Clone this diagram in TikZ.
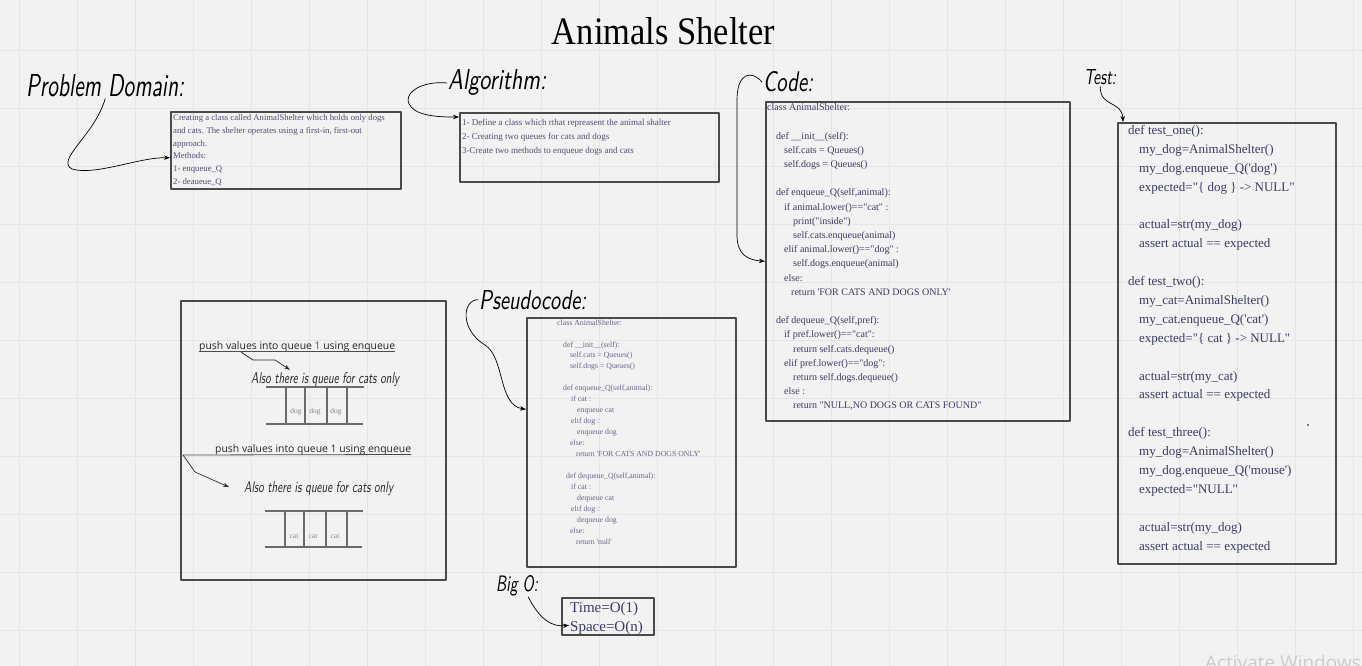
\documentclass[tikz,border=0pt]{standalone}
\usepackage{graphicx}
\usepackage{fontspec}
\setmainfont{Liberation Serif}[Ligatures=TeXOff]
\newfontfamily\uisans{Open Sans}
\usetikzlibrary{arrows.meta,calc}
\definecolor{bg}{HTML}{F2F2F2}
\definecolor{gridc}{HTML}{E5E5E5}
\definecolor{boxc}{HTML}{4A4A4A}
\definecolor{txt}{HTML}{3B3B62}
\definecolor{txtl}{HTML}{4E4E72}
\definecolor{txtp}{HTML}{66668A}
\definecolor{qline}{HTML}{6A6A6A}
\definecolor{qtxt}{HTML}{858585}
\definecolor{wm}{HTML}{CCCCCC}
\definecolor{numc}{HTML}{6A3D8A}
\newcommand{\handtxt}[3]{\resizebox{#1}{#2}{\sffamily\itshape #3}}
\tikzset{
  box/.style={draw=boxc, line width=1.6pt, anchor=north west, inner sep=0pt},
  txtnode/.style={anchor=north west, inner sep=0pt, align=left},
  hand/.style={anchor=base west, inner sep=1pt, text=black},
  conn/.style={draw=black, line width=0.7pt, -{Stealth[length=6pt,width=4.5pt]}},
  bent/.style={draw=black!85, line width=0.7pt, -{Stealth[length=6pt,width=4pt]}},
  uline/.style={draw=black!70, line width=0.8pt},
  qln/.style={draw=qline, line width=1.1pt},
  qlabel/.style={inner sep=0pt, text=qtxt, font=\fontsize{7.5}{9}\selectfont},
  pushtxt/.style={anchor=base west, inner sep=0pt, text=black!85, font=\uisans\fontsize{10.4}{12}\selectfont}
}
\begin{document}
\begin{tikzpicture}[x=1pt,y=-1pt,line join=round]
\fill[bg] (0,0) rectangle (1362,666);
\useasboundingbox (0,0) rectangle (1362,666);
\clip (0,0) rectangle (1362,666);
% grid
\foreach \gx in {19,77,...,1362} \draw[gridc, line width=0.7pt] (\gx,0) -- (\gx,666);
\foreach \gy in {50,108,...,666} \draw[gridc, line width=0.7pt] (0,\gy) -- (1362,\gy);

% title
\node[anchor=base, inner sep=0pt] (title) at (663.5,45) {\resizebox{223pt}{27pt}{Animals Shelter}};

% labels
\node[hand] (pdl) at (25,97) {\handtxt{158pt}{22pt}{Problem Domain:}};
\node[hand] (algl) at (447,90) {\handtxt{98pt}{20pt}{Algorithm:}};
\node[hand] (codel) at (762,92) {\handtxt{50pt}{20pt}{Code:}};
\node[hand] (testl) at (1083,85) {\handtxt{32pt}{15pt}{Test:}};
\node[hand] (psl) at (478,309) {\handtxt{107pt}{19pt}{Pseudocode:}};
\node[hand] (bigol) at (495,591) {\handtxt{42pt}{16pt}{Big O:}};

% boxes
\node[box, minimum width=230pt, minimum height=77pt] (pd) at (170,111) {};
\node[box, minimum width=259pt, minimum height=69pt] (alg) at (459,112) {};
\node[box, minimum width=304pt, minimum height=319pt] (code) at (765,101) {};
\node[box, minimum width=218pt, minimum height=441pt] (test) at (1117,122) {};
\node[box, minimum width=209pt, minimum height=249pt] (ps) at (526,317) {};
\node[box, minimum width=265pt, minimum height=279pt] (left) at (180,300) {};
\node[box, minimum width=92pt, minimum height=37pt] (bigo) at (561,597) {};

% problem domain text
\node[txtnode, text=txtl, font=\fontsize{8.7}{12.9}\selectfont] (pdt) at (173,114) {Creating a class called AnimalShelter which holds only dogs\\and cats. The shelter operates using a first-in, first-out\\approach.\\Methods:\\1- enqueue\_Q\\2- deaueue\_Q};

% algorithm text
\node[txtnode, text=txtl, font=\fontsize{9}{14}\selectfont] (algt) at (462,119) {1- Define a class which rthat repreasent the animal shalter\\2- Creating two queues for cats and dogs\\3-Create two methods to enqueue dogs and cats};

% code text
\node[txtnode, text=txt, font=\fontsize{10}{14.2}\selectfont] (codet) at (767,103.5) {class AnimalShelter:\\\mbox{}\\
\hspace*{9pt}def \_\_init\_\_(self):\\
\hspace*{17pt}self.cats = Queues()\\
\hspace*{17pt}self.dogs = Queues()\\\mbox{}\\
\hspace*{9pt}def enqueue\_Q(self,animal):\\
\hspace*{17pt}if animal.lower()=="cat" :\\
\hspace*{26pt}print("inside")\\
\hspace*{26pt}self.cats.enqueue(animal)\\
\hspace*{17pt}elif animal.lower()=="dog" :\\
\hspace*{26pt}self.dogs.enqueue(animal)\\
\hspace*{17pt}else:\\
\hspace*{24pt}return 'FOR CATS AND DOGS ONLY'\\\mbox{}\\
\hspace*{9pt}def dequeue\_Q(self,pref):\\
\hspace*{17pt}if pref.lower()=="cat":\\
\hspace*{26pt}return self.cats.dequeue()\\
\hspace*{17pt}elif pref.lower()=="dog":\\
\hspace*{26pt}return self.dogs.dequeue()\\
\hspace*{17pt}else :\\
\hspace*{26pt}return "NULL,NO DOGS OR CATS FOUND"};

% test text
\node[txtnode, text=txt, font=\fontsize{13}{18.9}\selectfont] (testt) at (1128,125) {def test\_one():\\
\hspace*{11pt}my\_dog=AnimalShelter()\\
\hspace*{11pt}my\_dog.enqueue\_Q('dog')\\
\hspace*{11pt}expected="\{ dog \} -> NULL"\\\mbox{}\\
\hspace*{11pt}actual=str(my\_dog)\\
\hspace*{11pt}assert actual == expected\\\mbox{}\\
def test\_two():\\
\hspace*{11pt}my\_cat=AnimalShelter()\\
\hspace*{11pt}my\_cat.enqueue\_Q('cat')\\
\hspace*{11pt}expected="\{ cat \} -> NULL"\\\mbox{}\\
\hspace*{11pt}actual=str(my\_cat)\\
\hspace*{11pt}assert actual == expected\\\mbox{}\\
def test\_three():\\
\hspace*{11pt}my\_dog=AnimalShelter()\\
\hspace*{11pt}my\_dog.enqueue\_Q('mouse')\\
\hspace*{11pt}expected="NULL"\\\mbox{}\\
\hspace*{11pt}actual=str(my\_dog)\\
\hspace*{11pt}assert actual == expected};
\fill[black] (1308,425) circle (0.8pt);

% pseudocode text
\node[txtnode, text=txtp, font=\fontsize{7.8}{10.95}\selectfont] (pst) at (557,319.5) {class AnimalShelter:\\\mbox{}\\
\hspace*{6pt}def \_\_init\_\_(self):\\
\hspace*{13pt}self.cats = Queues()\\
\hspace*{13pt}self.dogs = Queues()\\\mbox{}\\
\hspace*{6pt}def enqueue\_Q(self,animal):\\
\hspace*{14pt}if cat :\\
\hspace*{20pt}enqueue cat\\
\hspace*{14pt}elif dog :\\
\hspace*{20pt}enqueue dog\\
\hspace*{13pt}else:\\
\hspace*{19pt}return 'FOR CATS AND DOGS ONLY'\\\mbox{}\\
\hspace*{9pt}def dequeue\_Q(self,animal):\\
\hspace*{14pt}if cat :\\
\hspace*{20pt}dequeue cat\\
\hspace*{14pt}elif dog :\\
\hspace*{20pt}dequeue dog\\
\hspace*{13pt}else:\\
\hspace*{19pt}return 'null'};

% big O text
\node[txtnode, text=txt, font=\fontsize{15}{19}\selectfont] (bigot) at (570,601.5) {Time=O(1)\\Space=O(n)};

% left box content
\node[pushtxt] (push1) at (199,349) {push values into queue \textcolor{numc}{1} using enqueue};
\draw[uline] ([yshift=-2.5pt]push1.base west) -- ([yshift=-2.5pt]push1.base east);
\node[hand, inner sep=0pt, text=black!85] (also1) at (251,383) {\handtxt{148pt}{11pt}{Also there is queue for cats only}};
\draw[bent] ([xshift=42pt,yshift=-3pt]push1.base west) -- ++(12,8) -- ++(22,0) -- ([xshift=39pt,yshift=2pt]also1.north west);

\draw[qln] (266,387) -- (364,387);
\draw[qln] (266,424) -- (363,424);
\foreach \qx in {286,305,327,347} \draw[qln] (\qx,387) -- (\qx,423);
\node[qlabel] (d1) at (296,412) {dog};
\node[qlabel] (d2) at (315,412) {dog};
\node[qlabel] (d3) at (336,412) {dog};

\node[pushtxt] (push2) at (215,452) {push values into queue 1 using enqueue};
\coordinate (u2) at (183,455);
\draw[uline] (u2) -- ([yshift=-2.5pt]push2.base east);
\node[hand, inner sep=0pt, text=black!85] (also2) at (244,492) {\handtxt{149pt}{11pt}{Also there is queue for cats only}};
\draw[bent] (u2) -- ++(12,17) -- ([xshift=-15pt,yshift=1pt]also2.west);

\draw[qln] (265,511) -- (363,511);
\draw[qln] (265,547) -- (362,547);
\foreach \qx in {285,304,326,347} \draw[qln] (\qx,511) -- (\qx,547);
\node[qlabel] (c1) at (294,536) {cat};
\node[qlabel] (c2) at (313,536) {cat};
\node[qlabel] (c3) at (335,536) {cat};

% connectors
\draw[conn] (pdl.south) .. controls (95,135) and (55,160) .. (72,169) .. controls (95,176) and (140,157) .. ([yshift=-7.5pt]pd.west);
\draw[conn] (algl.west) .. controls (415,80) and (395,100) .. (418,112) .. controls (430,117) and (445,117) .. ([yshift=-5pt]alg.north west);
\draw[conn] (codel.west) .. controls (752,70) and (737,72) .. (737,100) -- (737,235) .. controls (737,255) and (748,260) .. (code.west);
\draw[conn] (testl.south) .. controls (1100,108) and (1122,100) .. ([xshift=6pt]test.north west);
\draw[conn] (psl.west) .. controls (462,300) and (460,330) .. (485,345) .. controls (505,358) and (498,405) .. ([yshift=33pt]ps.west);
\draw[conn] ([xshift=11pt]bigol.south) .. controls (540,620) and (552,627) .. ([xshift=8pt,yshift=-9pt]bigo.west);

% watermark
\node[anchor=base west, inner sep=0pt, text=wm, font=\uisans\fontsize{19}{22}\selectfont] (wmark) at (1205,669) {Activate Windows};
\end{tikzpicture}
\end{document}
